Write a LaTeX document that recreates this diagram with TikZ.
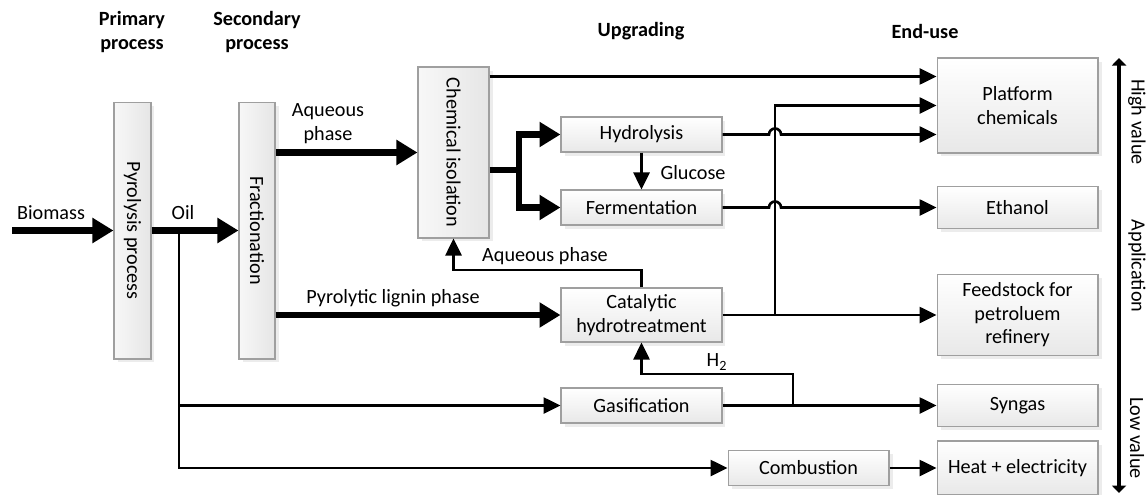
\documentclass[tikz,border=0pt]{standalone}
\usepackage{fontspec}
\setmainfont{Carlito}
\usetikzlibrary{arrows.meta,calc,shadows}
\newcommand{\fsz}{\fontsize{11.5}{13.4}\selectfont}
\tikzset{
  boxbase/.style={draw=gray!75, line width=0.6pt, inner sep=0pt, align=center, font=\fsz,
    drop shadow={shadow xshift=0.07cm, shadow yshift=-0.07cm, fill=gray!28}},
  hbox/.style={boxbase, top color=white, bottom color=gray!18, minimum width=3.22cm},
  vbox/.style={boxbase, left color=gray!6, right color=gray!20},
  conn/.style={line width=1.5pt},
  arr/.style={conn, -{Triangle[length=0.34cm,width=0.32cm]}},
  fat/.style={line width=3.9pt},
  fatarr/.style={fat, -{Triangle[length=0.42cm,width=0.48cm]}},
  lbl/.style={font=\fsz, align=center, inner sep=1pt},
  head/.style={font=\fsz\bfseries, align=center, inner sep=1pt},
  vlbl/.style={lbl, rotate=-90}
}
\begin{document}
\begin{tikzpicture}[x=0.02cm, y=-0.02cm]
\useasboundingbox[fill=white] (0,0) rectangle (1148,494);

% headings
\node[head] (hPrim) at (132,32) {Primary\\process};
\node[head] (hSec) at (257,32) {Secondary\\process};
\node[head] (hUpg) at (641,31) {Upgrading};
\node[head] (hEnd) at (925,31) {End-use};

% vertical boxes
\node[vbox, minimum width=0.74cm, minimum height=5.14cm] (pyro) at (132.5,230.5) {};
\node[vlbl] (pyroT) at (pyro.center) {Pyrolysis process};
\node[vbox, minimum width=0.72cm, minimum height=5.14cm] (frac) at (257,230.5) {};
\node[vlbl] (fracT) at (frac.center) {Fractionation};
\node[vbox, minimum width=1.42cm, minimum height=3.42cm] (chem) at (453.5,152.5) {};
\node[vlbl] (chemT) at (chem.center) {Chemical isolation};

% upgrading boxes
\node[hbox, minimum height=0.70cm] (hyd) at (641.5,134.5) {Hydrolysis};
\node[hbox, minimum height=0.70cm] (ferm) at (641.5,207.5) {Fermentation};
\node[hbox, minimum height=1.08cm] (cat) at (641.5,315) {Catalytic\\hydrotreatment};
\node[hbox, minimum height=0.70cm] (gas) at (641.5,405.5) {Gasification};
\node[hbox, minimum height=0.70cm] (comb) at (808.5,468) {Combustion};

% end-use boxes
\node[hbox, minimum height=1.90cm] (plat) at (1017.5,105.5) {Platform\\chemicals};
\node[hbox, minimum height=0.84cm] (eth) at (1017.5,207.5) {Ethanol};
\node[hbox, minimum height=1.62cm] (feed) at (1017.5,315) {Feedstock for\\petroluem\\refinery};
\node[hbox, minimum height=0.84cm] (syn) at (1017.5,405.5) {Syngas};
\node[hbox, minimum height=1.08cm] (heat) at (1017.5,468) {Heat + electricity};

% coordinates
\coordinate (bstart) at (12,230.5);
\coordinate (oj) at (179,230.5);
\coordinate (br) at (519,170);
\coordinate (vx) at (775,315);
\coordinate (aq) at (453.5,270);
\coordinate (hj) at (793,405.5);
\coordinate (h2c) at (793,374);
\coordinate (ctop) at ($(chem.north east)+(0,10)$);
\coordinate (axtop) at (1119,58);
\coordinate (axbot) at (1119,493);

% thick flows
\draw[fatarr] (bstart) -- (pyro.west);
\draw[fatarr] (pyro.east) -- (frac.west);
\draw[fatarr] (chem.west -| frac.east) -- (chem.west);
\draw[fatarr] (cat.west -| frac.east) -- (cat.west);
\draw[fat] (chem.east |- br) -- (br);
\draw[fatarr] (br) |- (hyd.west);
\draw[fatarr] (br) |- (ferm.west);

% thin flows
\draw[arr] (oj) |- (gas.west);
\draw[arr] (oj) |- (comb.west);
\draw[arr] (ctop) -- (ctop -| plat.west);
\draw[arr] (hyd.south) -- (ferm.north);
\draw[arr] (hyd.east) -- ($(hyd.east -| vx)+(-6,0)$) arc[start angle=180,end angle=0,radius=0.12cm] -- (hyd.east -| plat.west);
\draw[arr] (ferm.east) -- ($(ferm.east -| vx)+(-6,0)$) arc[start angle=180,end angle=0,radius=0.12cm] -- (ferm.east -| eth.west);
\draw[arr] (cat.east) -- (cat.east -| feed.west);
\draw[arr] (vx) |- (plat.west);
\draw[arr] (cat.north) |- (aq) -- (chem.south);
\draw[arr] (gas.east) -- (gas.east -| syn.west);
\draw[arr] (hj) -- (h2c) -| (cat.south);
\draw[arr] (comb.east) -- (heat.west);

% value axis
\draw[line width=2.3pt, {Triangle[length=0.15cm,width=0.28cm]}-{Triangle[length=0.15cm,width=0.28cm]}] (axtop) -- (axbot);

% labels
\node[lbl] (lBio) at (51,213) {Biomass};
\node[lbl] (lOil) at (183,213) {Oil};
\node[lbl] (lAq1) at (328,123.5) {Aqueous\\phase};
\node[lbl] (lLig) at (393,298) {Pyrolytic lignin phase};
\node[lbl] (lGlu) at (693,173) {Glucose};
\node[lbl] (lAq2) at (545,256) {Aqueous phase};
\node[lbl] (lH2) at (717,362) {H\textsubscript{2}};
\node[vlbl] (lHigh) at (1137,122) {High value};
\node[vlbl] (lApp) at (1137,266) {Application};
\node[vlbl] (lLow) at (1137,438) {Low value};
\end{tikzpicture}
\end{document}
